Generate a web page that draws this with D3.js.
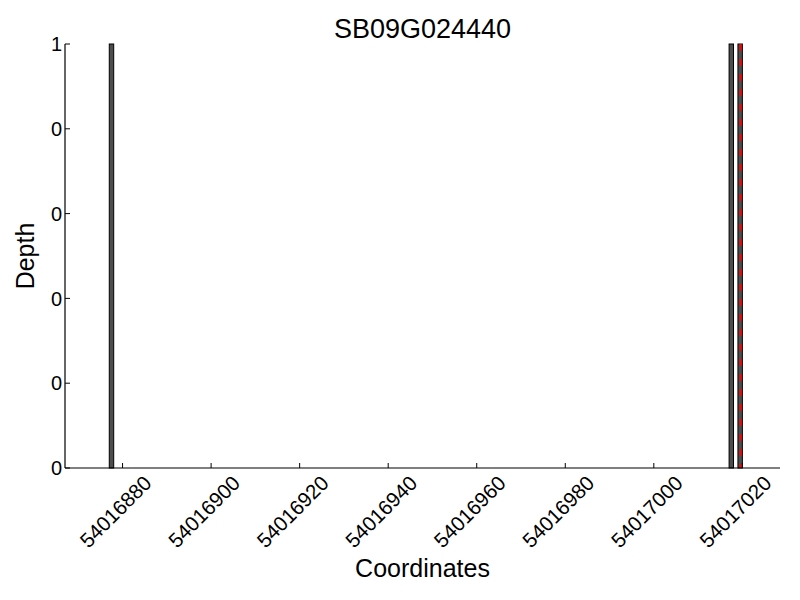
<!DOCTYPE html>
<html>
<head>
<meta charset="utf-8">
<script src="https://cdn.jsdelivr.net/npm/d3@7"></script>
<style>
  body { margin: 0; background: #fff; }
  text { font-family: "Liberation Sans", Arial, sans-serif; fill: #000; }
</style>
</head>
<body>
<div id="chart"></div>
<script>
/* data */
const TITLE = "SB09G024440"
const positions = [54016877, 54017017, 54017019]
const depths = [1, 1, 1]
const markerPos = [54017019.6]
const xTicks = [54016880, 54016900, 54016920, 54016940, 54016960, 54016980, 54017000, 54017020]
const yTicks = [0, 0.2, 0.4, 0.6, 0.8, 1]
const yTickLabels = ["0", "0", "0", "0", "0", "1"]

/* layout */
const WIDTH = 800
const HEIGHT = 600
const M = {"LEFT": 65, "RIGHT": 780, "TOP": 44, "BOTTOM": 468}

const svg = d3.select("#chart")
              .append("svg")
              .attr("width", WIDTH)
              .attr("height", HEIGHT);

const x = d3.scaleLinear()
            .domain([54016867, 54017028.5])
            .range([M.LEFT, M.RIGHT]);
const y = d3.scaleLinear()
            .domain([0, 1])
            .range([M.BOTTOM, M.TOP]);

/* bars: left edge at position, width 1 coordinate */
svg.append("g")
   .selectAll("rect")
   .data(positions)
   .enter()
   .append("rect")
   .attr("x", (d) => x(d))
   .attr("y", (d, i) => y(depths[i]))
   .attr("width", (d) => x(d + 1) - x(d))
   .attr("height", (d, i) => y(0) - y(depths[i]))
   .attr("fill", "#4d4d4d")
   .attr("stroke", "#000")
   .attr("stroke-width", 1);

/* red dashed marker */
svg.append("g")
   .selectAll("line")
   .data(markerPos)
   .enter()
   .append("line")
   .attr("x1", (d) => x(d))
   .attr("x2", (d) => x(d))
   .attr("y1", y(1))
   .attr("y2", y(0))
   .attr("stroke", "red")
   .attr("stroke-width", 2)
   .attr("stroke-dasharray", "7,8");

/* spines */
svg.append("line")
   .attr("x1", M.LEFT).attr("x2", M.LEFT)
   .attr("y1", M.TOP).attr("y2", M.BOTTOM)
   .attr("stroke", "#000").attr("stroke-width", 1.2);
svg.append("line")
   .attr("x1", M.LEFT).attr("x2", M.RIGHT)
   .attr("y1", M.BOTTOM).attr("y2", M.BOTTOM)
   .attr("stroke", "#000").attr("stroke-width", 1.2);

/* y ticks (inward) */
const yg = svg.append("g");
yg.selectAll("line")
  .data(yTicks)
  .enter()
  .append("line")
  .attr("x1", M.LEFT).attr("x2", M.LEFT + 5)
  .attr("y1", (d) => y(d)).attr("y2", (d) => y(d))
  .attr("stroke", "#000");
yg.selectAll("text")
  .data(yTicks)
  .enter()
  .append("text")
  .attr("x", M.LEFT - 3)
  .attr("y", (d) => y(d))
  .attr("dy", "0.36em")
  .attr("text-anchor", "end")
  .style("font-size", "20px")
  .text((d, i) => yTickLabels[i]);

/* x ticks (inward) with rotated labels */
const xg = svg.append("g");
xg.selectAll("line")
  .data(xTicks)
  .enter()
  .append("line")
  .attr("x1", (d) => x(d)).attr("x2", (d) => x(d))
  .attr("y1", M.BOTTOM).attr("y2", M.BOTTOM - 5)
  .attr("stroke", "#000");
xg.selectAll("text")
  .data(xTicks)
  .enter()
  .append("text")
  .attr("text-anchor", "middle")
  .attr("dy", "0.35em")
  .style("font-size", "20.5px")
  .text((d) => d)
  .each(function (d) {
    const L = this.getComputedTextLength();
    const h = 15;
    const half = (L + h) / (2 * Math.SQRT2);
    const cx = x(d) - 7;
    const cy = M.BOTTOM + 6 + half;
    d3.select(this).attr("transform", "translate(" + cx + "," + cy + ") rotate(-45)");
  });

/* titles */
svg.append("text")
   .attr("x", (M.LEFT + M.RIGHT) / 2)
   .attr("y", 38)
   .attr("text-anchor", "middle")
   .style("font-size", "27px")
   .text(TITLE);
svg.append("text")
   .attr("x", (M.LEFT + M.RIGHT) / 2)
   .attr("y", 577)
   .attr("text-anchor", "middle")
   .style("font-size", "25px")
   .text("Coordinates");
svg.append("text")
   .attr("transform", "translate(34," + ((M.TOP + M.BOTTOM) / 2) + ") rotate(-90)")
   .attr("text-anchor", "middle")
   .style("font-size", "25px")
   .text("Depth");
</script>
</body>
</html>
